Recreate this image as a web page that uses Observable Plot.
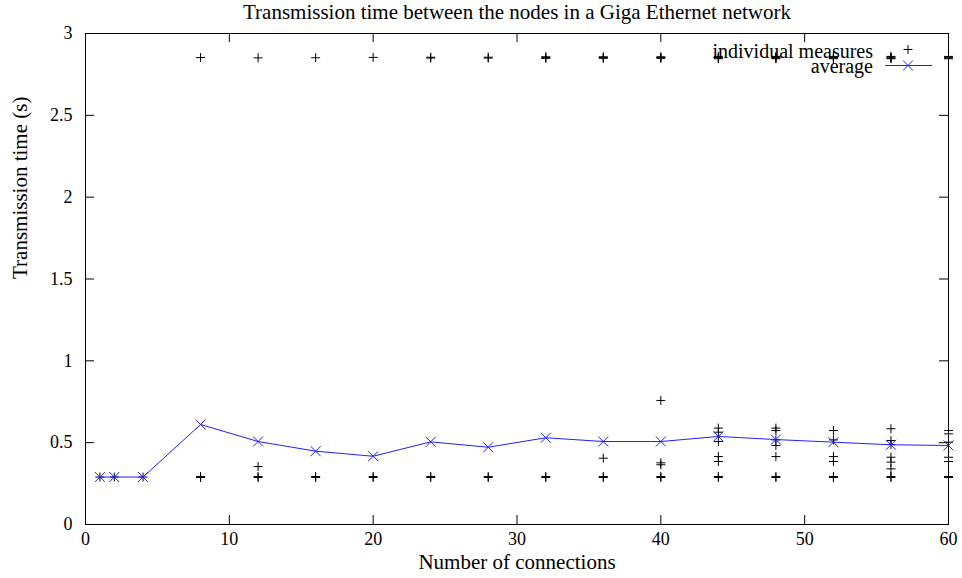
<!DOCTYPE html>
<html>
<head>
<meta charset="utf-8">
<script src="https://cdn.jsdelivr.net/npm/d3@7"></script>
<script src="https://cdn.jsdelivr.net/npm/@observablehq/plot@0.6"></script>
<style>
  html, body { margin: 0; padding: 0; background: white; }
</style>
</head>
<body>
<div id="chart"></div>
<script>
const titleText = "Transmission time between the nodes in a Giga Ethernet network";
const xLabel = "Number of connections";
const yLabel = "Transmission time (s)";
const legendMeasures = "individual measures";
const legendAverage = "average";

const xTicks = [0, 10, 20, 30, 40, 50, 60];
const yTicks = [0, 0.5, 1, 1.5, 2, 2.5, 3];
const yTickLabels = ["0", "0.5", "1", "1.5", "2", "2.5", "3"];

// average per number of connections
const connections = [1, 2, 4, 8, 12, 16, 20, 24, 28, 32, 36, 40, 44, 48, 52, 56, 60];
const averageTime = [0.29, 0.29, 0.29, 0.611, 0.507, 0.448, 0.417, 0.505, 0.472, 0.530, 0.507, 0.507, 0.538, 0.519, 0.503, 0.487, 0.483];

// individual measures (distinct visible points)
const measureConnections = [
  1, 2, 4,
  8, 8, 8,
  12, 12, 12, 12,
  16, 16, 16,
  20, 20, 20,
  24, 24, 24, 24,
  28, 28, 28, 28,
  32, 32, 32, 32, 32,
  36, 36, 36, 36, 36, 36,
  40, 40, 40, 40, 40, 40, 40, 40,
  44, 44, 44, 44, 44, 44, 44, 44, 44, 44, 44,
  48, 48, 48, 48, 48, 48, 48, 48, 48, 48, 48,
  52, 52, 52, 52, 52, 52, 52, 52, 52, 52,
  56, 56, 56, 56, 56, 56, 56, 56, 56, 56, 56, 56,
  60, 60, 60, 60, 60, 60, 60, 60, 60, 60, 60
];
const measureTimes = [
  0.29, 0.29, 0.29,
  0.287, 0.293, 2.853,
  0.287, 0.293, 0.354, 2.851,
  0.287, 0.293, 2.852,
  0.287, 0.293, 2.854,
  0.287, 0.293, 2.85, 2.855,
  0.287, 0.293, 2.85, 2.855,
  0.287, 0.293, 2.848, 2.853, 2.858,
  0.287, 0.293, 0.405, 2.848, 2.853, 2.858,
  0.287, 0.293, 0.365, 0.377, 0.758, 2.848, 2.853, 2.858,
  0.287, 0.293, 0.385, 0.415, 0.507, 0.564, 0.589, 2.846, 2.85, 2.855, 2.86,
  0.287, 0.293, 0.415, 0.483, 0.517, 0.574, 0.589, 2.846, 2.85, 2.855, 2.86,
  0.287, 0.293, 0.385, 0.415, 0.517, 0.574, 2.846, 2.85, 2.855, 2.86,
  0.287, 0.293, 0.340, 0.381, 0.411, 0.489, 0.513, 0.585, 2.846, 2.85, 2.855, 2.86,
  0.287, 0.293, 0.385, 0.411, 0.503, 0.554, 0.574, 2.846, 2.85, 2.855, 2.86
];

const avgData = connections.map((c, i) => ({c, t: averageTime[i]}));
const measData = measureConnections.map((c, i) => ({c, t: measureTimes[i]}));

const W = 962, H = 578, mL = 85, mR = 14, mT = 33, mB = 54;
const frameW = W - mL - mR, frameH = H - mT - mB;
const tickLen = 9;
const blue = "#1f1fff";
const serif = "Liberation Serif";

function legend(index, scales, values, dims) {
  const g = d3.create("svg:g").attr("font-size", 20).attr("fill", "black").attr("font-family", serif);
  const right = dims.width - dims.marginRight;
  const top = dims.marginTop;
  const tx = right - 75, sx = right - 40;
  g.append("text").attr("x", tx).attr("y", top + 25).attr("text-anchor", "end").text(legendMeasures);
  g.append("path").attr("d", d3.symbol(d3.symbolPlus, 28)()).attr("transform", `translate(${sx},${top + 16.5})`).attr("stroke", "black").attr("fill", "none");
  g.append("text").attr("x", tx).attr("y", top + 40).attr("text-anchor", "end").text(legendAverage);
  g.append("line").attr("x1", sx - 23).attr("x2", sx + 24).attr("y1", top + 32.5).attr("y2", top + 32.5).attr("stroke", blue);
  g.append("path").attr("d", d3.symbol(d3.symbolTimes, 66)()).attr("transform", `translate(${sx},${top + 32.5})`).attr("stroke", blue).attr("fill", "none");
  return g.node();
}

const chart = Plot.plot({
  width: W, height: H,
  marginLeft: mL, marginRight: mR, marginTop: mT, marginBottom: mB,
  style: {fontFamily: serif, fontSize: "18px"},
  x: {domain: [0, 60]},
  y: {domain: [0, 3]},
  marks: [
    Plot.frame({stroke: "black", strokeWidth: 1}),
    Plot.ruleX(xTicks, {x: d => d, insetTop: frameH - tickLen, stroke: "black"}),
    Plot.ruleX(xTicks, {x: d => d, insetBottom: frameH - tickLen, stroke: "black"}),
    Plot.ruleY(yTicks, {y: d => d, insetRight: frameW - tickLen, stroke: "black"}),
    Plot.ruleY(yTicks, {y: d => d, insetLeft: frameW - tickLen, stroke: "black"}),
    Plot.axisX(xTicks, {tickSize: 0, tickPadding: 8, label: null, fontSize: 18}),
    Plot.axisY(yTicks, {tickSize: 0, tickPadding: 13, label: null, fontSize: 18, tickFormat: (d, i) => yTickLabels[i]}),
    Plot.text([titleText], {text: d => d, frameAnchor: "top", dy: -21, lineAnchor: "middle", fontSize: 21, fontFamily: serif}),
    Plot.text([xLabel], {text: d => d, frameAnchor: "bottom", dy: 38, lineAnchor: "middle", fontSize: 21, fontFamily: serif}),
    Plot.text([yLabel], {text: d => d, frameAnchor: "left", dx: -65, rotate: -90, lineAnchor: "middle", fontSize: 21, fontFamily: serif}),
    Plot.dot(measData, {x: "c", y: "t", symbol: "plus", r: 3, stroke: "black", strokeWidth: 1}),
    Plot.line(avgData, {x: "c", y: "t", stroke: blue, strokeWidth: 1}),
    Plot.dot(avgData, {x: "c", y: "t", symbol: "times", r: 4.6, stroke: blue, strokeWidth: 1}),
    legend
  ]
});
document.getElementById("chart").appendChild(chart);
</script>
</body>
</html>
